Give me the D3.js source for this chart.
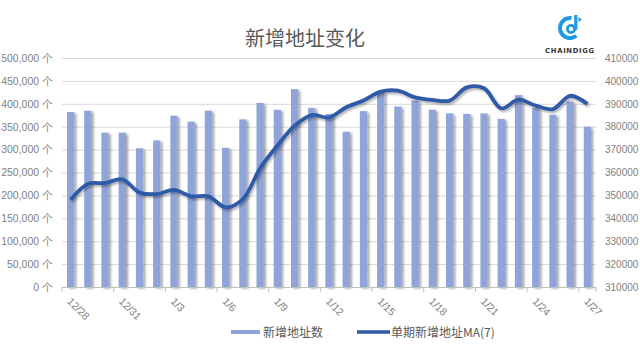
<!DOCTYPE html>
<html><head><meta charset="utf-8">
<script src="https://cdnjs.cloudflare.com/ajax/libs/d3/7.8.5/d3.min.js"></script>
<style>
html,body{margin:0;padding:0;background:#fff;}
svg{display:block;font-family:"Noto Sans CJK SC","Noto Sans",sans-serif;}
</style></head><body>
<svg id="c" width="640" height="355"></svg>
<script>
const dates = ["12/28","12/29","12/30","12/31","1/1","1/2","1/3","1/4","1/5","1/6","1/7","1/8","1/9","1/10","1/11","1/12","1/13","1/14","1/15","1/16","1/17","1/18","1/19","1/20","1/21","1/22","1/23","1/24","1/25","1/26","1/27"];
const newAddresses = [382000,385000,337000,337000,303000,320000,374000,361000,385000,304000,366000,402000,387000,432000,391000,378000,339000,384000,426000,394000,407000,387000,379000,378000,379000,367000,419000,391000,376000,405000,350000];
const ma7 = [348100,355000,355400,357000,351300,350600,352400,349600,349600,344800,348400,361800,371700,380400,385100,384000,388500,391400,395300,395700,392800,391700,391400,397200,396800,388000,391800,389200,387700,393500,389900];
const leftTicks = [0,50000,100000,150000,200000,250000,300000,350000,400000,450000,500000];
const rightTicks = [310000,320000,330000,340000,350000,360000,370000,380000,390000,400000,410000];
const labelDates = ["12/28","12/31","1/3","1/6","1/9","1/12","1/15","1/18","1/21","1/24","1/27"];
const title = "新增地址变化";
const seriesNames = ["新增地址数","单期新增地址MA(7)"];

const svg = d3.select("#c");
const L = 62, R = 596, T = 58, B = 287;
const x = d3.scaleBand().domain(dates).range([L,R]).paddingInner(0.58).paddingOuter(0.29);
const yL = d3.scaleLinear().domain([0,500000]).range([B,T]);
const yR = d3.scaleLinear().domain([310000,410000]).range([B,T]);
const barColor = "#8FA4D8", lineColor = "#2E5AA8", textColor = "#7F7F7F";
const numFont = "Liberation Sans, Arial, sans-serif";

const defs = svg.append("defs");
const f1 = defs.append("filter").attr("id","bs").attr("x","-50%").attr("y","-10%").attr("width","200%").attr("height","120%");
f1.append("feDropShadow").attr("dx",2.2).attr("dy",1.5).attr("stdDeviation",1.2).attr("flood-color","#000").attr("flood-opacity",0.35);
const f2 = defs.append("filter").attr("id","ls").attr("x","-5%").attr("y","-20%").attr("width","110%").attr("height","140%");
f2.append("feDropShadow").attr("dx",1.5).attr("dy",2).attr("stdDeviation",1.3).attr("flood-color","#000").attr("flood-opacity",0.3);

// title
svg.append("text").attr("x",305).attr("y",46).attr("text-anchor","middle")
  .attr("font-size",20).attr("fill","#595959").text(title);

// logo
const lg = svg.append("g");
const blue = "#1E9BE0";
lg.append("path").attr("d", d3.arc()({innerRadius:8,outerRadius:12,startAngle:Math.PI*0.78,endAngle:Math.PI*2.05}))
  .attr("transform","translate(570,28)").attr("fill",blue);
lg.append("circle").attr("cx",571).attr("cy",29).attr("r",3.6).attr("fill","none").attr("stroke",blue).attr("stroke-width",2.8);
lg.append("rect").attr("x",574.2).attr("y",15).attr("width",3.2).attr("height",15).attr("fill",blue);
lg.append("path").attr("d","M578.5,17 L582,19.5 L578.5,22 Z").attr("fill",blue);
lg.append("text").attr("x",570).attr("y",52.5).attr("text-anchor","middle").attr("font-family","DejaVu Sans, sans-serif")
  .attr("font-size",6.8).attr("font-weight","bold").attr("letter-spacing",0.7).attr("fill","#333").text("CHAINDIGG");

// gridlines
svg.append("g").selectAll("line").data(leftTicks.filter(d=>d>0)).join("line")
  .attr("x1",L).attr("x2",R).attr("y1",d=>yL(d)+0.5).attr("y2",d=>yL(d)+0.5)
  .attr("stroke","#D9D9D9").attr("stroke-width",1);

// left axis
const axL = svg.append("g").attr("transform",`translate(${L},0)`)
  .call(d3.axisLeft(yL).tickValues(leftTicks).tickSize(0).tickPadding(9).tickFormat(d=>d3.format(",")(d)+" 个"));
axL.select(".domain").remove();
axL.selectAll("text").attr("font-size",10.5).attr("fill",textColor).attr("font-family",numFont);

// right axis
const axR = svg.append("g").attr("transform",`translate(${R},0)`)
  .call(d3.axisRight(yR).tickValues(rightTicks).tickSize(0).tickPadding(9).tickFormat(d3.format("d")));
axR.select(".domain").remove();
axR.selectAll("text").attr("font-size",10).attr("fill",textColor).attr("font-family",numFont);

// bars
svg.append("g").attr("filter","url(#bs)").selectAll("rect").data(newAddresses).join("rect")
  .attr("x",(d,i)=>x(dates[i])).attr("width",x.bandwidth())
  .attr("y",d=>yL(d)).attr("height",d=>B-yL(d)).attr("fill",barColor);

// bottom axis
svg.append("line").attr("x1",L).attr("x2",R).attr("y1",B+0.5).attr("y2",B+0.5).attr("stroke","#BFBFBF");
const step = x.step();
const tickIdx = d3.range(0, dates.length+1, 3).concat([dates.length]);
svg.append("g").selectAll("line").data(tickIdx).join("line")
  .attr("x1",i=>L+i*step).attr("x2",i=>L+i*step).attr("y1",B).attr("y2",B+5).attr("stroke","#BFBFBF");
svg.append("g").selectAll("text").data(labelDates).join("text")
  .attr("transform",d=>`translate(${x(d)+x.bandwidth()/2-4},${B+15}) rotate(45)`)
  .attr("font-size",10.5).attr("fill",textColor).attr("font-family",numFont).text(d=>d);

// line
const line = d3.line().x((d,i)=>x(dates[i])+x.bandwidth()/2).y(d=>yR(d)).curve(d3.curveCatmullRom.alpha(0.5));
svg.append("path").datum(ma7).attr("d",line).attr("fill","none").attr("stroke",lineColor)
  .attr("stroke-width",3.8).attr("stroke-linejoin","round").attr("filter","url(#ls)");

// legend
const lgd = svg.append("g");
lgd.append("line").attr("x1",231).attr("x2",260).attr("y1",332).attr("y2",332).attr("stroke",barColor).attr("stroke-width",4);
lgd.append("text").attr("x",263).attr("y",336.5).attr("font-size",12).attr("fill","#595959").text(seriesNames[0]);
lgd.append("line").attr("x1",357).attr("x2",390).attr("y1",332).attr("y2",332).attr("stroke",lineColor).attr("stroke-width",3.5);
lgd.append("text").attr("x",391).attr("y",336.5).attr("font-size",12).attr("fill","#595959").text(seriesNames[1]);
</script></body></html>
